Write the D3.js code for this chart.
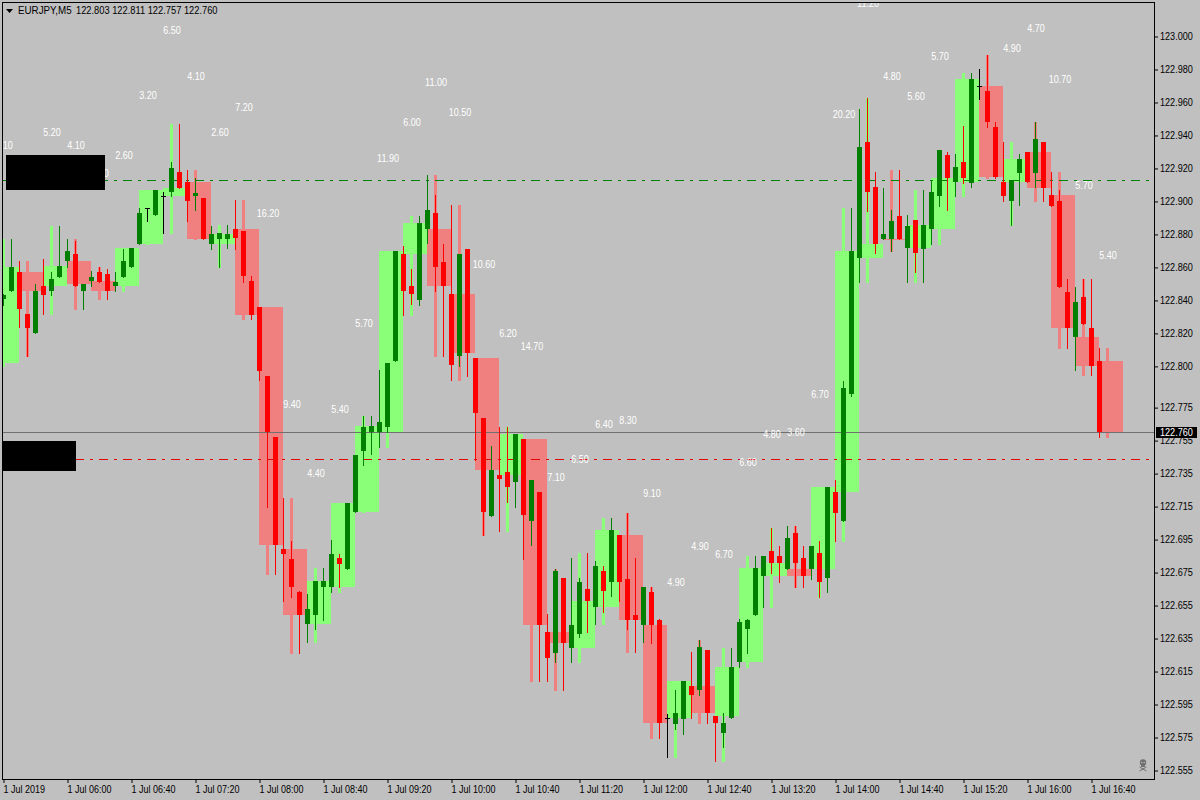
<!DOCTYPE html>
<html><head><meta charset="utf-8">
<script src="https://cdn.jsdelivr.net/npm/d3@7/dist/d3.min.js"></script>
<style>
html,body{margin:0;padding:0;background:#c0c0c0;overflow:hidden}
svg{display:block}
text{font-family:"Liberation Sans",Arial,sans-serif}
</style></head><body>
<svg id="c" width="1200" height="800"></svg>
<script>
// EURJPY M5 bars; the first entry is the bar just left of the visible window
const barOpen=[122.802,
122.841,122.846,122.857,122.832,122.820,122.849,122.846,122.854,122.864,122.868,
122.846,122.852,122.857,122.856,122.849,122.854,122.860,122.874,122.896,122.892,
122.903,122.906,122.918,122.912,122.903,122.902,122.874,122.877,122.877,122.883,
122.882,122.852,122.836,122.794,122.757,122.689,122.683,122.663,122.644,122.649,
122.666,122.666,122.684,122.677,122.712,122.749,122.760,122.760,122.763,122.803,
122.868,122.849,122.840,122.883,122.893,122.863,122.844,122.806,122.871,122.805,
122.769,122.709,122.734,122.736,122.730,122.756,122.706,122.724,122.639,122.626,
122.672,122.629,122.638,122.665,122.654,122.676,122.669,122.698,122.671,122.649,
122.643,122.663,122.646,122.587,122.583,122.586,122.606,122.604,122.628,122.588,
122.578,122.587,122.621,122.641,122.649,122.673,122.688,122.685,122.677,122.699,
122.684,122.677,122.687,122.672,122.724,122.706,122.783,122.866,122.936,122.909,
122.877,122.877,122.891,122.872,122.889,122.871,122.883,122.903,122.928,122.912,
122.924,122.911,122.970,122.967,122.945,122.912,122.900,122.917,122.930,122.917,
122.936,122.904,122.900,122.845,122.818,122.842,122.823,122.803];
const barHigh=[122.847,
122.844,122.877,122.864,122.832,122.850,122.865,122.857,122.885,122.877,122.876,
122.850,122.858,122.860,122.859,122.857,122.871,122.872,122.896,122.896,122.907,
122.906,122.924,122.947,122.919,122.914,122.902,122.885,122.881,122.886,122.901,
122.882,122.855,122.836,122.794,122.757,122.720,122.694,122.664,122.662,122.670,
122.678,122.695,122.686,122.717,122.746,122.770,122.770,122.798,122.802,122.870,
122.873,122.859,122.891,122.916,122.904,122.874,122.898,122.868,122.871,122.805,
122.769,122.752,122.763,122.763,122.759,122.756,122.731,122.724,122.650,122.677,
122.672,122.684,122.672,122.687,122.682,122.679,122.708,122.698,122.711,122.684,
122.666,122.666,122.647,122.589,122.604,122.609,122.627,122.634,122.628,122.588,
122.590,122.629,122.647,122.647,122.685,122.685,122.702,122.691,122.703,122.703,
122.691,122.691,122.694,122.727,122.731,122.791,122.896,122.956,122.963,122.918,
122.908,122.895,122.919,122.892,122.889,122.907,122.913,122.931,122.930,122.929,
122.946,122.978,122.980,122.989,122.948,122.936,122.913,122.929,122.930,122.948,
122.936,122.918,122.907,122.853,122.848,122.853,122.853,122.811];
const barLow=[122.800,
122.837,122.846,122.824,122.806,122.820,122.832,122.843,122.854,122.860,122.849,
122.835,122.849,122.851,122.841,122.846,122.854,122.860,122.874,122.888,122.892,
122.881,122.903,122.908,122.888,122.895,122.877,122.871,122.860,122.872,122.871,
122.851,122.829,122.792,122.715,122.674,122.658,122.660,122.626,122.633,122.641,
122.646,122.663,122.666,122.677,122.712,122.740,122.747,122.751,122.760,122.803,
122.831,122.838,122.837,122.875,122.846,122.806,122.792,122.800,122.794,122.743,
122.698,122.709,122.700,122.718,122.715,122.683,122.692,122.609,122.609,122.621,
122.604,122.621,122.636,122.639,122.644,122.651,122.661,122.658,122.641,122.627,
122.633,122.632,122.575,122.563,122.580,122.577,122.587,122.601,122.584,122.561,
122.569,122.587,122.618,122.626,122.649,122.654,122.675,122.669,122.677,122.666,
122.666,122.671,122.660,122.663,122.694,122.706,122.782,122.851,122.894,122.869,
122.877,122.870,122.877,122.851,122.857,122.851,122.874,122.897,122.895,122.903,
122.911,122.909,122.962,122.945,122.914,122.900,122.886,122.898,122.912,122.909,
122.900,122.897,122.848,122.811,122.798,122.826,122.795,122.757];
const barClose=[122.840,
122.843,122.860,122.835,122.823,122.846,122.843,122.853,122.861,122.870,122.849,
122.850,122.854,122.851,122.846,122.851,122.864,122.872,122.893,122.896,122.907,
122.903,122.920,122.908,122.900,122.905,122.877,122.880,122.881,122.880,122.878,
122.855,122.831,122.797,122.760,122.692,122.686,122.666,122.649,122.653,122.670,
122.670,122.686,122.680,122.717,122.746,122.763,122.764,122.766,122.802,122.870,
122.846,122.844,122.887,122.895,122.860,122.849,122.801,122.868,122.808,122.772,
122.712,122.737,122.732,122.727,122.759,122.710,122.731,122.643,122.623,122.676,
122.632,122.643,122.669,122.658,122.679,122.664,122.701,122.669,122.646,122.646,
122.666,122.643,122.584,122.587,122.590,122.609,122.601,122.630,122.590,122.584,
122.584,122.618,122.645,122.646,122.678,122.685,122.681,122.681,122.696,122.681,
122.673,122.691,122.669,122.727,122.711,122.787,122.870,122.933,122.906,122.874,
122.880,122.888,122.877,122.885,122.869,122.886,122.906,122.931,122.914,122.921,
122.914,122.974,122.970,122.948,122.915,122.903,122.913,122.926,122.912,122.938,
122.908,122.897,122.848,122.823,122.839,122.826,122.800,122.760];

// White range labels: the bar each sits on, its text, and the price it sits at
const labelBars=[0,6,9,12,15,18,21,24,27,30,33,36,39,42,45,48,51,54,57,60,63,66,69,72,75,78,81,84,87,90,93,96,99,102,105,108,111,114,117,126,129,132,135,138];
const labelTexts=["3.10","5.20","4.10","3.10","2.60","3.20","6.50","4.10","2.60","7.20","16.20","9.40","4.40","5.40","5.70","11.90","6.00","11.00","10.50","10.60","6.20","14.70","7.10","6.50","6.40","8.30","9.10","4.90","4.90","6.70","6.60","4.80","3.60","6.70","20.20","11.20","4.80","5.60","5.70","4.90","4.70","10.70","5.70","5.40"];
const labelPrices=[122.934,122.942,122.934,122.917,122.928,122.964,123.004,122.976,122.942,122.957,122.893,122.777,122.735,122.774,122.826,122.926,122.948,122.972,122.954,122.862,122.820,122.812,122.733,122.7435,122.765,122.7675,122.723,122.669,122.691,122.686,122.742,122.759,122.760,122.783,122.953,123.020,122.976,122.9635,122.988,122.993,123.005,122.974,122.910,122.8675];

const priceTicks=[123.000,122.980,122.960,122.940,122.920,122.900,122.880,122.860,122.840,122.820,122.800,122.775,122.755,122.735,122.715,122.695,122.675,122.655,122.635,122.615,122.595,122.575,122.555];
const timeTickBars=[0,8,16,24,32,40,48,56,64,72,80,88,96,104,112,120,128,136];
const timeTickLabels=["1 Jul 2019","1 Jul 06:00","1 Jul 06:40","1 Jul 07:20","1 Jul 08:00","1 Jul 08:40","1 Jul 09:20","1 Jul 10:00","1 Jul 10:40","1 Jul 11:20","1 Jul 12:00","1 Jul 12:40","1 Jul 13:20","1 Jul 14:00","1 Jul 14:40","1 Jul 15:20","1 Jul 16:00","1 Jul 16:40"];
const symbolTitle="EURJPY,M5";
const levelUpper=122.913, levelLower=122.744, lastPrice=122.760;

const F3=d3.format(".3f");
const UP_BODY="#007f00",DN_BODY="#ff0000",UP_BOX="#8aff78",DN_BOX="#f08080",INK="#000";
const x=d3.scaleLinear().domain([0,137]).range([3.5,1099.5]);
const y=d3.scaleLinear().domain([122.555,123]).range([770.5,36.5]);
const Y=p=>Math.round(y(p));
const svg=d3.select("#c");
svg.append("rect").attr("width",1200).attr("height",800).attr("fill","#c0c0c0");
const defs=svg.append("defs");
defs.append("clipPath").attr("id","plot").append("rect").attr("x",3).attr("y",3).attr("width",1151).attr("height",776);
const plot=svg.append("g").attr("clip-path","url(#plot)");

const bars=barOpen.map((o,k)=>({i:k-1,o,h:barHigh[k],l:barLow[k],c:barClose[k]}));
// 15-minute boxes aggregated from three M5 bars
const boxes=[];
for(let k=0;k<bars.length;k+=3){
  const g=bars.slice(k,k+3);
  boxes.push({i:g[0].i,o:g[0].o,c:g[g.length-1].c,h:d3.max(g,d=>d.h),l:d3.min(g,d=>d.l)});
}
const boxCol=d=>d.c>d.o?UP_BOX:DN_BOX;
plot.selectAll(".bw").data(boxes).join("rect").attr("class","bw")
  .attr("x",d=>Math.floor(x(d.i+1))-1).attr("width",3)
  .attr("y",d=>Y(d.h)).attr("height",d=>Y(d.l)-Y(d.h)+1).attr("fill",boxCol);
plot.selectAll(".bb").data(boxes).join("rect").attr("class","bb")
  .attr("x",d=>Math.floor(x(d.i))).attr("width",24)
  .attr("y",d=>Y(Math.max(d.o,d.c))).attr("height",d=>Math.max(1,Y(Math.min(d.o,d.c))-Y(Math.max(d.o,d.c))))
  .attr("fill",boxCol);

// horizontal levels
const lines=[{p:levelUpper,col:"#008000",dash:"9,6,3,6",x2:1149},{p:levelLower,col:"#e00000",dash:"9,6,3,6",x2:1149},{p:lastPrice,col:"#707070",dash:null,x2:1154}];
plot.selectAll(".lvl").data(lines).join("line").attr("class","lvl")
  .attr("x1",3).attr("x2",d=>d.x2).attr("y1",d=>Y(d.p)+.5).attr("y2",d=>Y(d.p)+.5)
  .attr("stroke",d=>d.col).attr("stroke-dasharray",d=>d.dash).attr("stroke-width",1);

// candles
const col=d=>d.c>d.o?UP_BODY:d.c<d.o?DN_BODY:INK;
plot.selectAll(".w").data(bars).join("rect").attr("class","w")
  .attr("x",d=>Math.floor(x(d.i))).attr("width",1)
  .attr("y",d=>Y(d.h)).attr("height",d=>Y(d.l)-Y(d.h)+1).attr("fill",col);
plot.selectAll(".b").data(bars).join("rect").attr("class","b")
  .attr("x",d=>Math.floor(x(d.i))-2).attr("width",5)
  .attr("y",d=>Y(Math.max(d.o,d.c))).attr("height",d=>Math.max(1,Y(Math.min(d.o,d.c))-Y(Math.max(d.o,d.c))))
  .attr("fill",col);

// white labels
function squeeze(sel,f){sel.each(function(){const n=this.getComputedTextLength();d3.select(this).attr("textLength",(n*f).toFixed(1)).attr("lengthAdjust","spacingAndGlyphs");});}
const lab=plot.selectAll(".lab").data(labelTexts).join("text").attr("class","lab")
  .attr("x",(d,k)=>x(labelBars[k])+.5).attr("y",(d,k)=>y(labelPrices[k])).attr("dy","0.36em")
  .attr("text-anchor","middle").attr("fill","#fff").attr("font-size",10).text(d=>d);
squeeze(lab,.9);

// blackout blocks
svg.append("rect").attr("x",6).attr("y",155).attr("width",99).attr("height",35).attr("fill",INK);
svg.append("rect").attr("x",3).attr("y",441).attr("width",73).attr("height",30).attr("fill",INK);

// axes
const right=svg.append("g").attr("transform","translate(1154,0)").call(d3.axisRight(y).tickValues(priceTicks).tickFormat(F3).tickSize(4).tickPadding(2));
const bottom=svg.append("g").attr("transform","translate(0,779)").call(d3.axisBottom(x).tickValues(timeTickBars).tickFormat((d,k)=>timeTickLabels[k]).tickSize(4).tickPadding(3));
right.select(".domain").remove();bottom.select(".domain").remove();
right.selectAll("text").attr("font-size",10).attr("fill",INK).attr("font-family",null);
bottom.selectAll("text").attr("font-size",10).attr("fill",INK).attr("text-anchor","start").attr("dx",-0.5).attr("font-family",null);
right.selectAll("line").attr("stroke",INK);bottom.selectAll("line").attr("stroke",INK);
squeeze(right.selectAll("text"),.91);squeeze(bottom.selectAll("text"),.9);

// frame
svg.append("rect").attr("x",2.5).attr("y",2.5).attr("width",1152).attr("height",777).attr("fill","none").attr("stroke",INK);

// last-price tag
svg.append("rect").attr("x",1156).attr("y",427).attr("width",41).attr("height",11).attr("fill",INK);
const tag=svg.append("text").attr("x",1160).attr("y",Y(lastPrice)+.5).attr("dy","0.36em").attr("fill","#fff").attr("font-size",10).text(F3(lastPrice));
squeeze(tag,.91);

// title
svg.append("path").attr("d",d3.line()([[6,9],[13,9],[9.5,13]])+"Z").attr("fill",INK);
const last=bars[bars.length-1];
const titleA=svg.append("text").attr("x",18).attr("y",10).attr("dy","0.36em").attr("fill",INK).attr("font-size",10).text(symbolTitle);
squeeze(titleA,.98);
const titleB=svg.append("text").attr("x",76).attr("y",10).attr("dy","0.36em").attr("fill",INK).attr("font-size",10)
  .text(`${F3(last.o)} ${F3(last.h)} ${F3(last.l)} ${F3(last.c)}`);
squeeze(titleB,.93);

// skull mark
const skull=svg.append("g").attr("fill","#707070").attr("stroke","#707070");
skull.append("circle").attr("cx",1143).attr("cy",762.5).attr("r",3.2).attr("stroke","none");
skull.append("rect").attr("x",1141).attr("y",764).attr("width",4).attr("height",3).attr("stroke","none");
skull.append("circle").attr("cx",1141.8).attr("cy",762.5).attr("r",.7).attr("fill","#c0c0c0").attr("stroke","none");
skull.append("circle").attr("cx",1144.2).attr("cy",762.5).attr("r",.7).attr("fill","#c0c0c0").attr("stroke","none");
skull.append("line").attr("x1",1139.5).attr("y1",767).attr("x2",1146.5).attr("y2",771).attr("stroke-width",1);
skull.append("line").attr("x1",1146.5).attr("y1",767).attr("x2",1139.5).attr("y2",771).attr("stroke-width",1);
</script>
</body></html>
